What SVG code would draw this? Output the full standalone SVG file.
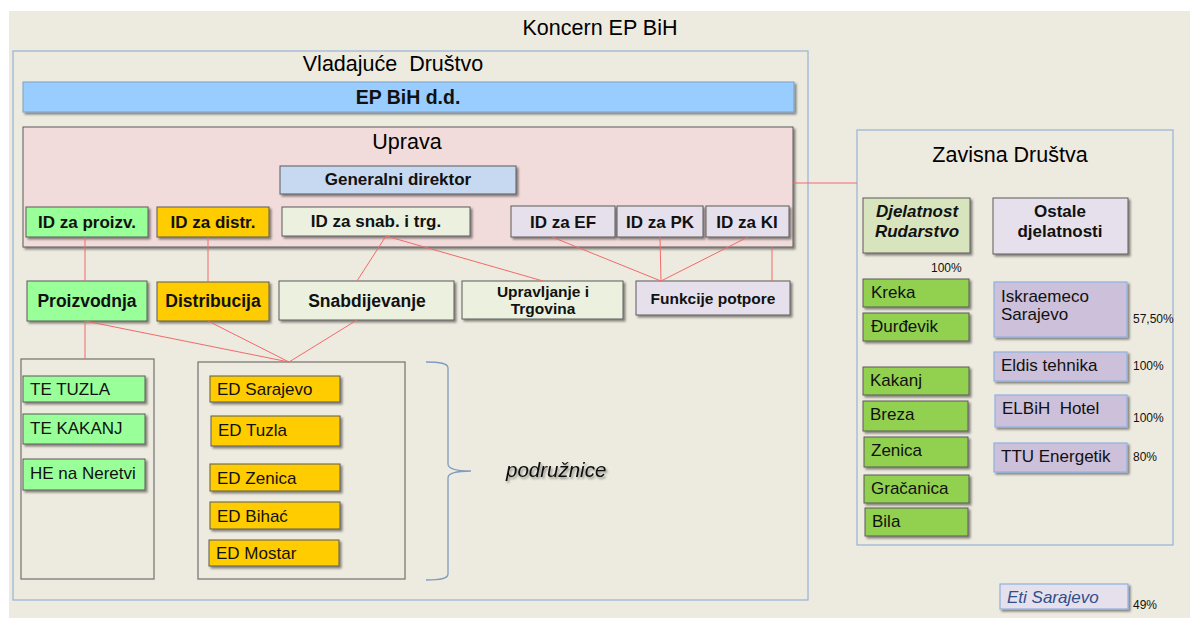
<svg xmlns="http://www.w3.org/2000/svg" width="1190" height="618" viewBox="0 0 1190 618">
<defs>
<filter id="sh" x="-10%" y="-10%" width="130%" height="140%">
<feDropShadow dx="2" dy="2" stdDeviation="1.2" flood-color="#000" flood-opacity="0.45"/>
</filter>
<filter id="tsh" x="-10%" y="-30%" width="130%" height="170%">
<feDropShadow dx="1.5" dy="2" stdDeviation="1.2" flood-color="#000" flood-opacity="0.4"/>
</filter>
<style>
text{font-family:"Liberation Sans",Arial,sans-serif;fill:#111;}
.b{font-weight:bold;}
.t21{font-size:21.5px;fill:#000;}
.t17{font-size:17px;}
.tb17{font-size:17px;}
.tb175{font-size:17.5px;}
.t15{font-size:15.5px;}
.t12{font-size:12px;}
.box{stroke:#5a5a5a;stroke-width:1;filter:url(#sh);}
.bx{stroke:#8DB3E2;stroke-width:1.2;filter:url(#sh);}
.grn{fill:#99FF99;}
.org{fill:#FFCC00;}
.lgr{fill:#EBF1DE;}
.lav{fill:#E6E0EC;}
.mgr{fill:#92D050;}
.pur{fill:#CCC0DA;}
.cont{fill:none;stroke:#95B3D7;stroke-width:1.2;}
.grp{fill:none;stroke:#707070;stroke-width:1.2;}
.con line{stroke:#F26A6A;stroke-width:1;}
.mid{text-anchor:middle;}
</style>
</defs>
<rect x="9" y="11" width="1181" height="607" fill="#EDEADF"/>
<text class="t21 mid" x="600" y="35">Koncern EP BiH</text>

<g id="vladajuce">
<rect class="cont" x="13" y="51" width="795" height="549"/>
<text class="t21 mid" x="393" y="71" xml:space="preserve">Vladajuće  Društvo</text>
</g>
<g id="epbih">
<rect x="23" y="82" width="771" height="30" fill="#99CCFF" stroke="#7F9FC4" stroke-width="1" filter="url(#sh)"/>
<text class="b mid" x="408" y="104" font-size="19.5">EP BiH d.d.</text>
</g>
<g id="uprava">
<rect class="box" x="23" y="127" width="770" height="120" fill="#F2DCDB"/>
<text class="t21 mid" x="407" y="149">Uprava</text>
</g>
<g id="generalni">
<rect class="box" x="280" y="166" width="236" height="28" fill="#C6D9F1"/>
<text class="b tb17 mid" x="398" y="185">Generalni direktor</text>
</g>
<g id="id-proizv"><rect class="box grn" x="26" y="207" width="122" height="30"/><text class="b tb17 mid" x="87" y="228">ID za proizv.</text></g>
<g id="id-distr"><rect class="box org" x="157" y="207" width="112" height="30"/><text class="b tb17 mid" x="213" y="228">ID za distr.</text></g>
<g id="id-snab"><rect class="box lgr" x="282" y="207" width="188" height="29"/><text class="b tb17 mid" x="376" y="227">ID za snab. i trg.</text></g>
<g id="id-ef"><rect class="box lav" x="511" y="206" width="104" height="31"/><text class="b tb17 mid" x="563" y="228">ID za EF</text></g>
<g id="id-pk"><rect class="box lav" x="617" y="206" width="86" height="31"/><text class="b tb17 mid" x="660" y="228">ID za PK</text></g>
<g id="id-ki"><rect class="box lav" x="706" y="206" width="83" height="31"/><text class="b tb17 mid" x="747" y="228">ID za KI</text></g>

<g id="proizvodnja"><rect class="box grn" x="27" y="281" width="120" height="40"/><text class="b tb175 mid" x="87" y="307">Proizvodnja</text></g>
<g id="distribucija"><rect class="box org" x="157" y="282" width="112" height="39"/><text class="b tb175 mid" x="213" y="307">Distribucija</text></g>
<g id="snabdijevanje"><rect class="box lgr" x="279" y="281" width="175" height="39"/><text class="b tb175 mid" x="367" y="307">Snabdijevanje</text></g>
<g id="upravljanje"><rect class="box lgr" x="462" y="281" width="161" height="38"/><text class="b t15 mid" x="543" y="297">Upravljanje i</text><text class="b t15 mid" x="543" y="314">Trgovina</text></g>
<g id="funkcije"><rect class="box lav" x="636" y="281" width="154" height="34"/><text class="b t15 mid" x="713" y="304">Funkcije potpore</text></g>

<g id="te-group"><rect class="grp" x="21" y="359" width="133" height="220"/></g>
<g id="ed-group"><rect class="grp" x="198" y="362" width="207" height="217"/></g>

<g id="te-tuzla"><rect class="box grn" x="23" y="376" width="122" height="26"/><text class="t17" x="30" y="395">TE TUZLA</text></g>
<g id="te-kakanj"><rect class="box grn" x="23" y="414" width="122" height="30"/><text class="t17" x="30" y="434">TE KAKANJ</text></g>
<g id="he-neretvi"><rect class="box grn" x="23" y="459" width="122" height="31"/><text class="t17" x="30" y="479">HE na Neretvi</text></g>

<g id="ed-sarajevo"><rect class="box org" x="210" y="376" width="130" height="26"/><text class="t17" x="217" y="395">ED Sarajevo</text></g>
<g id="ed-tuzla"><rect class="box org" x="211" y="416" width="129" height="30"/><text class="t17" x="218" y="436">ED Tuzla</text></g>
<g id="ed-zenica"><rect class="box org" x="210" y="464" width="130" height="27"/><text class="t17" x="217" y="484">ED Zenica</text></g>
<g id="ed-bihac"><rect class="box org" x="210" y="502" width="130" height="27"/><text class="t17" x="217" y="522">ED Bihać</text></g>
<g id="ed-mostar"><rect class="box org" x="209" y="540" width="130" height="26"/><text class="t17" x="216" y="559">ED Mostar</text></g>

<g id="brace">
<path d="M426,362 C440,362 448,363 448,368 L448,464 C448,469 455,471 471,471 C455,471 448,473 448,478 L448,574 C448,579 440,580 426,580" fill="none" stroke="#7F9DC0" stroke-width="1.3"/>
</g>
<g id="podruznice"><text x="506" y="477" font-size="20.5" font-style="italic" filter="url(#tsh)">podružnice</text></g>

<g id="zavisna">
<rect class="cont" x="857" y="130" width="316" height="415"/>
<text class="t21 mid" x="1010" y="162">Zavisna Društva</text>
</g>
<g id="rudarstvo"><rect class="box" x="863" y="198" width="107" height="55" fill="#D7E4BD"/><text class="b tb17 mid" x="917" y="217" font-style="italic">Djelatnost</text><text class="b tb17 mid" x="917" y="237" font-style="italic">Rudarstvo</text></g>
<g id="ostale"><rect class="box lav" x="993" y="198" width="135" height="56"/><text class="b tb17 mid" x="1060" y="217">Ostale</text><text class="b tb17 mid" x="1060" y="237">djelatnosti</text></g>
<text class="t12" x="931" y="272">100%</text>

<g id="kreka"><rect class="box mgr" x="863" y="279" width="106" height="28"/><text class="t17" x="871" y="298">Kreka</text></g>
<g id="durdevik"><rect class="box mgr" x="863" y="313" width="106" height="28"/><text class="t17" x="871" y="332">Đurđevik</text></g>
<g id="kakanj"><rect class="box mgr" x="863" y="367" width="106" height="28"/><text class="t17" x="870" y="386">Kakanj</text></g>
<g id="breza"><rect class="box mgr" x="863" y="401" width="105" height="30"/><text class="t17" x="870" y="420">Breza</text></g>
<g id="zenica"><rect class="box mgr" x="864" y="437" width="104" height="30"/><text class="t17" x="871" y="456">Zenica</text></g>
<g id="gracanica"><rect class="box mgr" x="864" y="475" width="105" height="28"/><text class="t17" x="871" y="494">Gračanica</text></g>
<g id="bila"><rect class="box mgr" x="865" y="508" width="103" height="28"/><text class="t17" x="872" y="527">Bila</text></g>

<g id="iskraemeco"><rect class="bx pur" x="994" y="282" width="133" height="55"/><text class="t17" x="1001" y="302">Iskraemeco</text><text class="t17" x="1001" y="320">Sarajevo</text></g>
<text class="t12" x="1133" y="323">57,50%</text>
<g id="eldis"><rect class="bx pur" x="994" y="352" width="133" height="29"/><text class="t17" x="1001" y="371">Eldis tehnika</text></g>
<text class="t12" x="1133" y="370">100%</text>
<g id="elbih"><rect class="bx pur" x="995" y="395" width="132" height="32"/><text class="t17" x="1002" y="414" xml:space="preserve">ELBiH  Hotel</text></g>
<text class="t12" x="1133" y="422">100%</text>
<g id="ttu"><rect class="bx pur" x="994" y="443" width="133" height="29"/><text class="t17" x="1001" y="462">TTU Energetik</text></g>
<text class="t12" x="1133" y="461">80%</text>
<g id="eti"><rect class="bx lav" x="1000" y="584" width="128" height="25"/><text class="t17" x="1007" y="603" font-style="italic" style="fill:#2F4F8A">Eti Sarajevo</text></g>
<text class="t12" x="1133" y="609">49%</text>

<g id="connectors" class="con">
<line x1="85" y1="237" x2="85" y2="281"/>
<line x1="208" y1="237" x2="208" y2="282"/>
<line x1="386" y1="236" x2="357" y2="281"/>
<line x1="386" y1="236" x2="543" y2="281"/>
<line x1="552" y1="237" x2="661" y2="281"/>
<line x1="660" y1="237" x2="661" y2="281"/>
<line x1="748" y1="237" x2="661" y2="281"/>
<line x1="772" y1="247" x2="772" y2="281"/>
<line x1="793" y1="183" x2="857" y2="183"/>
<line x1="85" y1="321" x2="85" y2="359"/>
<line x1="85" y1="321" x2="289" y2="362"/>
<line x1="208" y1="321" x2="289" y2="362"/>
<line x1="357" y1="320" x2="289" y2="362"/>
</g>
</svg>
